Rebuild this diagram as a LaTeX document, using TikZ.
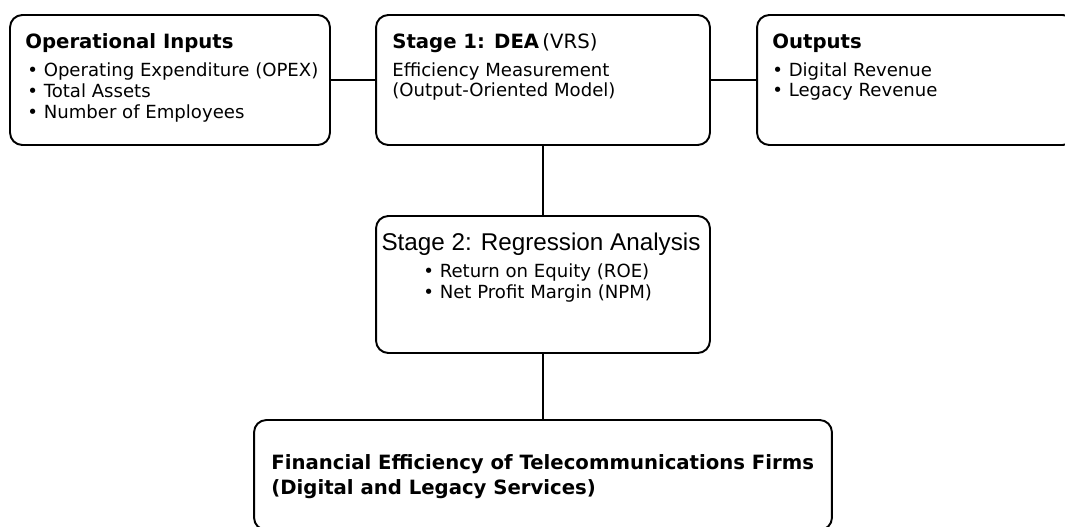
\documentclass[tikz,border=0pt]{standalone}
\usepackage{fontspec}
\setmainfont{DejaVu Sans}
\newfontfamily\stagefont{Liberation Sans}

\tikzset{
  stagebox/.style={draw, line width=1.1pt, rounded corners=7pt, inner sep=0pt},
  head/.style={anchor=base west, inner sep=0pt, font=\fontsize{11.2}{13}\selectfont\bfseries},
  item/.style={anchor=base west, inner sep=0pt, font=\fontsize{10.3}{12}\selectfont},
}

\begin{document}
\begin{tikzpicture}[x=0.02cm, y=-0.02cm]
            \path[use as bounding box, clip] (0,0) rectangle (1065,527);
            % Boxes
            \node[stagebox, minimum width=6.4cm, minimum height=2.6cm] (inputs) at (170,80) {};
            \node[stagebox, minimum width=6.68cm, minimum height=2.6cm] (dea) at (543,80) {};
            \node[stagebox, minimum width=6.36cm, minimum height=2.6cm] (outputs) at (916,80) {};
            \node[stagebox, minimum width=6.68cm, minimum height=2.74cm] (regression) at (543,284.5) {};
            \node[stagebox, minimum width=11.56cm, minimum height=2.2cm] (efficiency) at (543,475) {};
            % Inputs text
            \node[head] (inputsTitle) at (25,49) {Operational Inputs};
            \node[item] (opex) at (27,77) {• Operating Expenditure (OPEX)};
            \node[item] (assets) at (27,98) {• Total Assets};
            \node[item] (staff) at (27,118) {• Number of Employees};
            % Stage 1 text
            \node[head] (deaTitle) at (392,49) {Stage 1: DEA\,\mdseries(VRS)};
            \node[item] (measure) at (392,77) {Efficiency Measurement};
            \node[item] (model) at (392,97) {(Output-Oriented Model)};
            % Outputs text
            \node[head] (outputsTitle) at (772,49) {Outputs};
            \node[item] (digital) at (772,77) {• Digital Revenue};
            \node[item] (legacy) at (772,97) {• Legacy Revenue};
            % Stage 2 text
            \node[anchor=base, inner sep=0pt, font=\stagefont\fontsize{13.8}{16}\selectfont] (regTitle) at (541,250) {Stage 2: Regression Analysis};
            \node[item] (roe) at (423,277) {• Return on Equity (ROE)};
            \node[item] (npm) at (423,298) {• Net Profit Margin (NPM)};
            % Result text
            \node[head] (resultA) at (271,469) {Financial Efficiency of Telecommunications Firms};
            \node[head] (resultB) at (271,494) {(Digital and Legacy Services)};
            % Connectors
            \draw[line width=1.1pt] (inputs) -- (dea);
            \draw[line width=1.1pt] (dea) -- (outputs);
            \draw[line width=1.1pt] (dea) -- (regression);
            \draw[line width=1.1pt] (regression) -- (efficiency);
\end{tikzpicture}
\end{document}
